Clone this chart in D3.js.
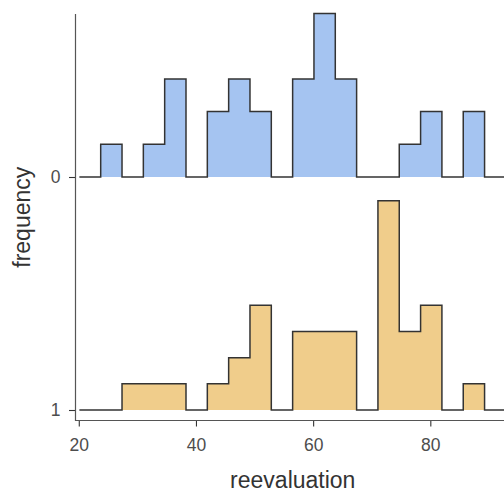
<!DOCTYPE html>
<html>
<head>
<meta charset="utf-8">
<script src="https://cdn.jsdelivr.net/npm/d3@7"></script>
<style>
  html, body { margin: 0; padding: 0; background: #fff; }
  svg { display: block; font-family: "Liberation Sans", Arial, sans-serif; }
</style>
</head>
<body>
<svg id="chart" width="504" height="496"></svg>
<script>
// ---- data ----
const groups = ["0", "1"];
const binStart = 20.1;
const binWidth = 3.64;
// counts per bin (bins start at binStart, width binWidth)
const counts0 = [0, 1, 0, 1, 3, 0, 2, 3, 2, 0, 3, 5, 3, 0, 0, 1, 2, 0, 2, 0, 0];
const counts1 = [0, 0, 1, 1, 1, 0, 1, 2, 4, 0, 3, 3, 3, 0, 8, 3, 4, 0, 1, 0, 0];
const groupColors = ["#a5c4f1", "#f0cd8b"];
const xTicks = [20, 40, 60, 80];
const xTitle = "reevaluation";
const yTitle = "frequency";

// ---- layout ----
const W = 504, H = 496;
const panel = { left: 75.5, right: 510, top: 14, bottom: 420.5 };

const svg = d3.select("#chart");

const x = d3.scaleLinear().domain([19.44, 93.6]).range([panel.left, panel.right]);
const y = d3.scalePoint().domain(groups).range([177, 410]);

const allCounts = [counts0, counts1];
const densities = allCounts.map(c => {
  const n = d3.sum(c);
  return c.map(v => v / n);
});
const maxDens = d3.max(densities, d => d3.max(d));
const h = d3.scaleLinear().domain([0, maxDens]).range([0, 209.3]);

svg.append("defs").append("clipPath").attr("id", "clip")
  .append("rect")
  .attr("x", panel.left).attr("y", 0)
  .attr("width", W - panel.left).attr("height", panel.bottom);

const gRidges = svg.append("g").attr("clip-path", "url(#clip)");

groups.forEach((g, gi) => {
  const dens = densities[gi];
  const base = y(g);
  const pts = [];
  dens.forEach((d, i) => pts.push({ e: binStart + i * binWidth, d }));
  pts.push({ e: binStart + dens.length * binWidth, d: dens[dens.length - 1] });

  const area = d3.area()
    .curve(d3.curveStepAfter)
    .x(p => x(p.e))
    .y0(base)
    .y1(p => base - h(p.d));
  const line = d3.line()
    .curve(d3.curveStepAfter)
    .x(p => x(p.e))
    .y(p => base - h(p.d));

  gRidges.append("path")
    .attr("d", area(pts))
    .attr("fill", groupColors[gi])
    .attr("stroke", "none");
  gRidges.append("path")
    .attr("d", line(pts))
    .attr("fill", "none")
    .attr("stroke", "#333333")
    .attr("stroke-width", 1.5)
    .attr("stroke-linejoin", "miter");
});

// ---- axes ----
const textColor = "#4d4d4d";

const yAxis = svg.append("g")
  .attr("transform", `translate(${panel.left},0)`)
  .call(d3.axisLeft(y).tickSize(6.5).tickPadding(8.5));
yAxis.select(".domain").remove();
yAxis.selectAll(".tick line").attr("stroke", "#333").attr("stroke-width", 1.1);
yAxis.selectAll(".tick text")
  .attr("fill", textColor)
  .style("font-size", "17.5px");

const xAxis = svg.append("g")
  .attr("transform", `translate(0,${panel.bottom})`)
  .call(d3.axisBottom(x).tickValues(xTicks).tickSize(6).tickPadding(12.5));
xAxis.select(".domain").remove();
xAxis.selectAll(".tick line").attr("stroke", "#333").attr("stroke-width", 1.1);
xAxis.selectAll(".tick text")
  .attr("fill", textColor)
  .style("font-size", "17.5px");

// axis lines
svg.append("line")
  .attr("x1", panel.left).attr("x2", panel.left)
  .attr("y1", panel.top).attr("y2", panel.bottom + 0.5)
  .attr("stroke", "#555").attr("stroke-width", 1.2);
svg.append("line")
  .attr("x1", panel.left).attr("x2", W)
  .attr("y1", panel.bottom).attr("y2", panel.bottom)
  .attr("stroke", "#555").attr("stroke-width", 1.2);

// titles
svg.append("text")
  .attr("x", (panel.left + panel.right) / 2)
  .attr("y", 488)
  .attr("text-anchor", "middle")
  .attr("fill", "#333")
  .style("font-size", "23px")
  .text(xTitle);

svg.append("text")
  .attr("transform", `translate(30,${(panel.top + panel.bottom) / 2}) rotate(-90)`)
  .attr("text-anchor", "middle")
  .attr("fill", "#333")
  .style("font-size", "23px")
  .text(yTitle);
</script>
</body>
</html>
